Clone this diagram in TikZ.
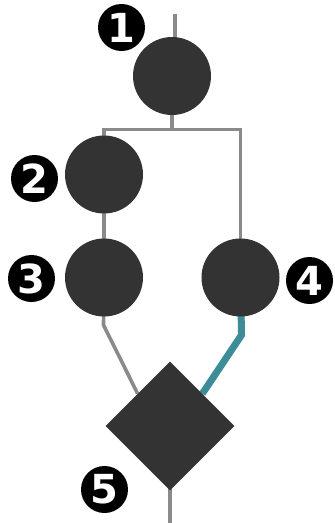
\documentclass[tikz,border=0pt]{standalone}
\usepackage{fontspec}
\newfontfamily\badgefont{DejaVu Sans}
\usetikzlibrary{shapes.geometric,backgrounds}
\definecolor{darkfill}{HTML}{333333}
\definecolor{wire}{HTML}{8A8A8A}
\definecolor{tealwire}{HTML}{3D8D99}
\tikzset{
  task/.style={circle,fill=darkfill,draw=none,minimum size=78pt,inner sep=0pt},
  gate/.style={diamond,fill=darkfill,draw=none,minimum width=129pt,minimum height=129pt,inner sep=0pt},
  badge/.style={circle,fill=black,draw=none,minimum size=47pt,inner sep=0pt,text=white,font=\badgefont\bfseries\fontsize{40}{40}\selectfont},
  wireline/.style={draw=wire,line width=3.6pt},
  hotline/.style={draw=tealwire,line width=7pt},
}
\begin{document}
\begin{tikzpicture}[x=1pt,y=-1pt]
\useasboundingbox (0,0) rectangle (335,523);
\node[task] (c1) at (172,76) {};
\node[task] (c2) at (104,174.5) {};
\node[task] (c3) at (104,277.5) {};
\node[task] (c4) at (240.5,277.5) {};
\node[gate] (d) at (170,426) {};
\coordinate (top) at (175,14);
\coordinate (split) at (172,129.5);
\coordinate (k3) at (103.5,325);
\coordinate (k4) at (241.5,335);
\coordinate (bottom) at (170,523);
\node[badge] (b1) at (121.5,27.5) {1};
\node[badge] (b2) at (34.5,178.5) {2};
\node[badge] (b3) at (31.5,278.5) {3};
\node[badge] (b4) at (309.5,280.5) {4};
\node[badge] (b5) at (104.5,489.5) {5};
\begin{scope}[on background layer]
\draw[wireline] (top) -- (top |- c1.center);
\draw[wireline] (c1.center) -- (split);
\draw[wireline] (c2.center) |- (split) -| (c4.center);
\draw[wireline] (c2.center) -- (c3.center);
\draw[wireline] (c3.center) -- (k3) -- (d.north west);
\draw[hotline] (c4.center) -- (k4) -- (d.north east);
\draw[wireline] (d.center) -- (bottom);
\end{scope}
\end{tikzpicture}
\end{document}
